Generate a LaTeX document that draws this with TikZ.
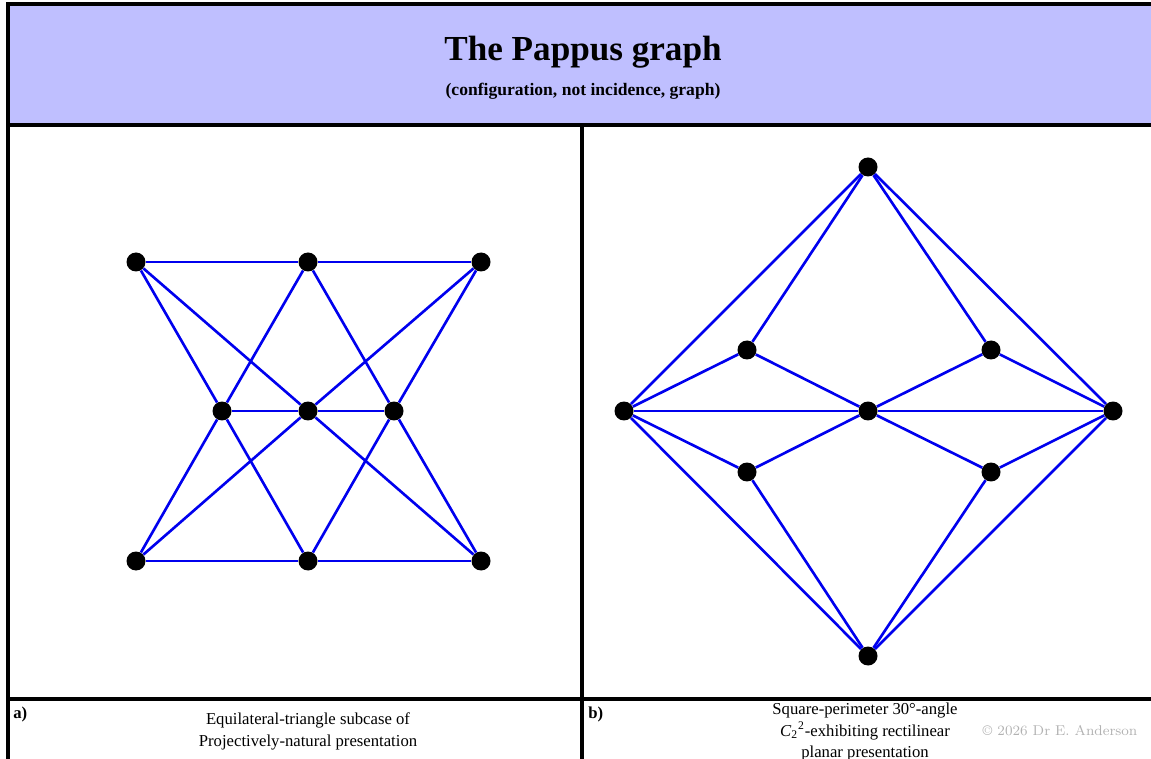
\documentclass[tikz,border=0pt]{standalone}
\usepackage{fontspec}
\setmainfont{Liberation Serif}
\newfontfamily\signfont{Latin Modern Roman}
\usepackage{xcolor}
\usepackage{tikz}
\usetikzlibrary{positioning}
\definecolor{headerlilac}{HTML}{BFBFFF}
\definecolor{edgeblue}{HTML}{0000EE}

\begin{document}
\begin{tikzpicture}[
    x=0.02cm,y=-0.02cm,
    vertex/.style={circle,fill=black,inner sep=0pt,minimum size=0.38cm},
    edge/.style={edgeblue,line width=1.5pt},
    frame/.style={black,line width=2.4pt},
    caption/.style={align=center,font=\fontsize{9.5}{12.5}\selectfont,inner sep=0pt},
    panel/.style={font=\bfseries\fontsize{9.5}{11}\selectfont,inner sep=0pt,anchor=north west}
  ]
    \useasboundingbox (0,0) rectangle (1151,759);

    % header band and frame
    \fill[headerlilac] (8,4) rectangle (1170,125);
    \draw[frame] (1170,4) -- (8,4) -- (8,780);
    \draw[frame] (8,125) -- (1170,125);
    \draw[frame] (582,125) -- (582,780);
    \draw[frame] (8,699) -- (1170,699);

    \node[font=\bfseries\fontsize{20}{24}\selectfont] (title) at (583,52) {The Pappus graph};
    \node[font=\bfseries\fontsize{10}{12}\selectfont] (subtitle) at (583,91)
      {(configuration, not incidence, graph)};

    % a) equilateral-triangle presentation
    \node[vertex] (atl) at (136,262) {};
    \node[vertex] (atm) at (308,262) {};
    \node[vertex] (atr) at (481,262) {};
    \node[vertex] (aml) at (222,411) {};
    \node[vertex] (amc) at (308,411) {};
    \node[vertex] (amr) at (394,411) {};
    \node[vertex] (abl) at (136,561) {};
    \node[vertex] (abm) at (308,561) {};
    \node[vertex] (abr) at (481,561) {};

    \draw[edge] (atl) -- (atm);
    \draw[edge] (atm) -- (atr);
    \draw[edge] (abl) -- (abm);
    \draw[edge] (abm) -- (abr);
    \draw[edge] (aml) -- (amc);
    \draw[edge] (amc) -- (amr);
    \draw[edge] (atl) -- (aml);
    \draw[edge] (atl) -- (amc);
    \draw[edge] (atm) -- (aml);
    \draw[edge] (atm) -- (amr);
    \draw[edge] (atr) -- (amc);
    \draw[edge] (atr) -- (amr);
    \draw[edge] (abl) -- (aml);
    \draw[edge] (abl) -- (amc);
    \draw[edge] (abm) -- (aml);
    \draw[edge] (abm) -- (amr);
    \draw[edge] (abr) -- (amc);
    \draw[edge] (abr) -- (amr);

    % b) square-perimeter presentation
    \node[vertex] (btop) at (868,167) {};
    \node[vertex] (bleft) at (624,411) {};
    \node[vertex] (bmid) at (868,411) {};
    \node[vertex] (bright) at (1113,411) {};
    \node[vertex] (bbot) at (868,656) {};
    \node[vertex] (bul) at (747,350) {};
    \node[vertex] (bur) at (991,350) {};
    \node[vertex] (bll) at (747,472) {};
    \node[vertex] (blr) at (991,472) {};

    \draw[edge] (btop) -- (bleft);
    \draw[edge] (btop) -- (bul);
    \draw[edge] (btop) -- (bur);
    \draw[edge] (btop) -- (bright);
    \draw[edge] (bleft) -- (bul);
    \draw[edge] (bul) -- (bmid);
    \draw[edge] (bleft) -- (bmid);
    \draw[edge] (bmid) -- (bright);
    \draw[edge] (bmid) -- (bur);
    \draw[edge] (bur) -- (bright);
    \draw[edge] (bleft) -- (bll);
    \draw[edge] (bll) -- (bmid);
    \draw[edge] (bmid) -- (blr);
    \draw[edge] (blr) -- (bright);
    \draw[edge] (bbot) -- (bleft);
    \draw[edge] (bbot) -- (bll);
    \draw[edge] (bbot) -- (blr);
    \draw[edge] (bbot) -- (bright);

    % captions
    \node[panel] (alabel) at (13,707) {a)};
    \node[panel] (blabel) at (588,707) {b)};
    \node[caption] (acap) at (308,731)
      {Equilateral-triangle subcase of\\Projectively-natural presentation};
    \node[caption] (bcap) at (865,732)
      {Square-perimeter 30°-angle\\\textit{C}\textsubscript{2}\textsuperscript{2}-exhibiting rectilinear\\planar presentation};
    \node[font=\signfont\fontsize{8.1}{10}\selectfont,text=black!30,inner sep=0pt] (copyr) at (1060,731)
      {© 2026 Dr E. Anderson};
  \end{tikzpicture}
\end{document}
